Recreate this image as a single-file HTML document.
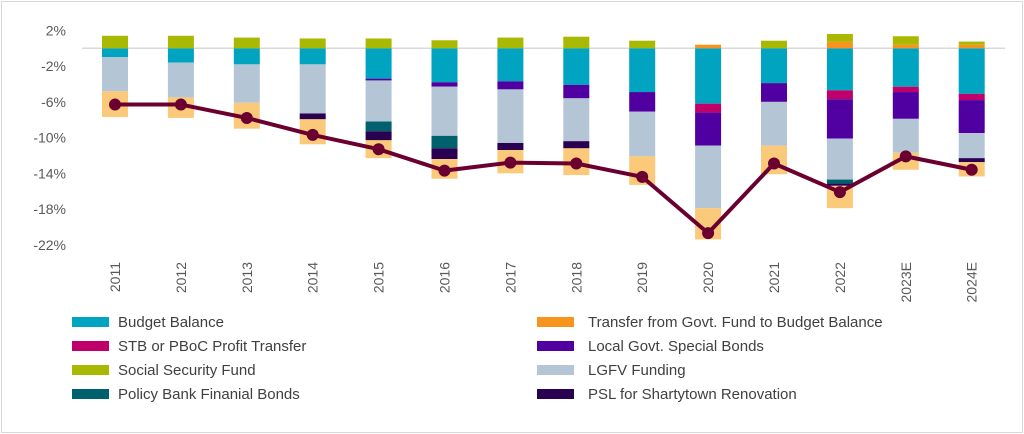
<!DOCTYPE html>
<html><head><meta charset="utf-8"><style>
body{margin:0;background:#fff;font-family:"Liberation Sans",sans-serif;}
#wrap{position:relative;width:1024px;height:434px;overflow:hidden;}
#frame{position:absolute;left:1px;top:1px;width:1020px;height:430px;border:1px solid #d9d9d9;}
</style></head><body>
<div id="wrap">
<div id="frame"></div>
<svg id="chart" width="1024" height="434" style="position:absolute;left:0;top:0"></svg>
</div>
<script>
const years=["2011","2012","2013","2014","2015","2016","2017","2018","2019","2020","2021","2022","2023E","2024E"];
const budget=[-1.0,-1.6,-1.8,-1.8,-3.4,-3.8,-3.7,-4.1,-4.9,-6.2,-3.9,-4.7,-4.3,-5.1];
const stb=[0,0,0,0,0,0,0,0,0,-1.0,0,-1.0,-0.6,-0.7];
const lsb=[0,0,0,0,-0.2,-0.5,-0.9,-1.5,-2.2,-3.7,-2.1,-4.4,-3.0,-3.7];
const lgfv=[-3.8,-3.9,-4.3,-5.5,-4.6,-5.5,-6.0,-4.8,-5.0,-7.0,-4.9,-4.6,-3.8,-2.8];
const policy=[0,0,0,0,-1.1,-1.4,0,0,0,0,0,-0.45,0,0];
const psl=[0,0,0,-0.65,-1.0,-1.2,-0.8,-0.8,0,0,0,-0.25,0,-0.45];
const other=[-2.9,-2.3,-2.9,-2.8,-2.0,-2.2,-2.6,-3.0,-3.2,-3.5,-3.2,-2.5,-1.9,-1.6];
const transfer=[0,0,0,0,0,0,0,0,0,0.4,0,0.75,0.4,0.4];
const social=[1.4,1.4,1.2,1.1,1.1,0.9,1.2,1.3,0.85,0,0.85,0.85,0.95,0.35];
const total=[-6.3,-6.3,-7.8,-9.7,-11.3,-13.7,-12.8,-12.9,-14.4,-20.7,-12.9,-16.1,-12.1,-13.6];
const yTicks=[2,-2,-6,-10,-14,-18,-22];
const NS="http://www.w3.org/2000/svg";
const svg=document.getElementById('chart');
const y=v=>48.3-v*8.93;
const x=i=>115+i*65.9;
const bw=26;
function mk(t,a){const e=document.createElementNS(NS,t);for(const k in a)e.setAttribute(k,a[k]);svg.appendChild(e);return e;}
yTicks.forEach(t=>{const e=mk('text',{x:66,y:y(t)+5,'text-anchor':'end','font-size':14,fill:'#595959'});e.textContent=t+'%';

});
const zl=mk('line',{x1:82,x2:1005,y1:y(0),y2:y(0),stroke:'#d9d9d9','stroke-width':1.5});


const negSeries=[[budget,'#00A3C0','budget'],[stb,'#C0006A','stb'],[lsb,'#5000A0','lsb'],[lgfv,'#B4C6D6','lgfv'],[policy,'#00616E','policy'],[psl,'#2A0050','psl'],[other,'#FBC97A','other']];
const posSeries=[[transfer,'#F7941D','transfer'],[social,'#A9B800','social']];
years.forEach((yr,i)=>{
 let c=0;
 negSeries.forEach(([arr,col,nm])=>{const v=arr[i];if(!v)return;const r=mk('rect',{x:x(i)-bw/2,y:y(c),width:bw,height:y(c+v)-y(c),fill:col});
 
 c+=v;});
 c=0;
 posSeries.forEach(([arr,col,nm])=>{const v=arr[i];if(!v)return;const r=mk('rect',{x:x(i)-bw/2,y:y(c+v),width:bw,height:y(c)-y(c+v),fill:col});
 
 c+=v;});
 const t=mk('text',{transform:`translate(${x(i)+5},${262}) rotate(-90)`,'text-anchor':'end','font-size':14,fill:'#595959'});t.textContent=yr;
 
 
});
const pl=mk('polyline',{points:total.map((v,i)=>x(i)+','+y(v)).join(' '),fill:'none',stroke:'#6B0030','stroke-width':4,'stroke-linejoin':'round'});


total.forEach((v,i)=>{const c=mk('circle',{cx:x(i),cy:y(v),r:6,fill:'#6B0030'});

});
const legend=[["Budget Balance",'#00A3C0'],["Transfer from Govt. Fund to Budget Balance",'#F7941D'],["STB or PBoC Profit Transfer",'#C0006A'],["Local Govt. Special Bonds",'#5000A0'],["Social Security Fund",'#A9B800'],["LGFV Funding",'#B4C6D6'],["Policy Bank Finanial Bonds",'#00616E'],["PSL for Shartytown Renovation",'#2A0050']];
legend.forEach(([name,col],k)=>{const col2=k%2,row=Math.floor(k/2);const lx=col2?537:72,ly=322+row*24;
 const s=mk('rect',{x:lx,y:ly-5,width:37,height:10,fill:col});
 
 
 const t=mk('text',{x:lx+(col2?51:46),y:ly+5,'font-size':15,fill:'#404040'});t.textContent=name;
 
 });
</script>
</body></html>
